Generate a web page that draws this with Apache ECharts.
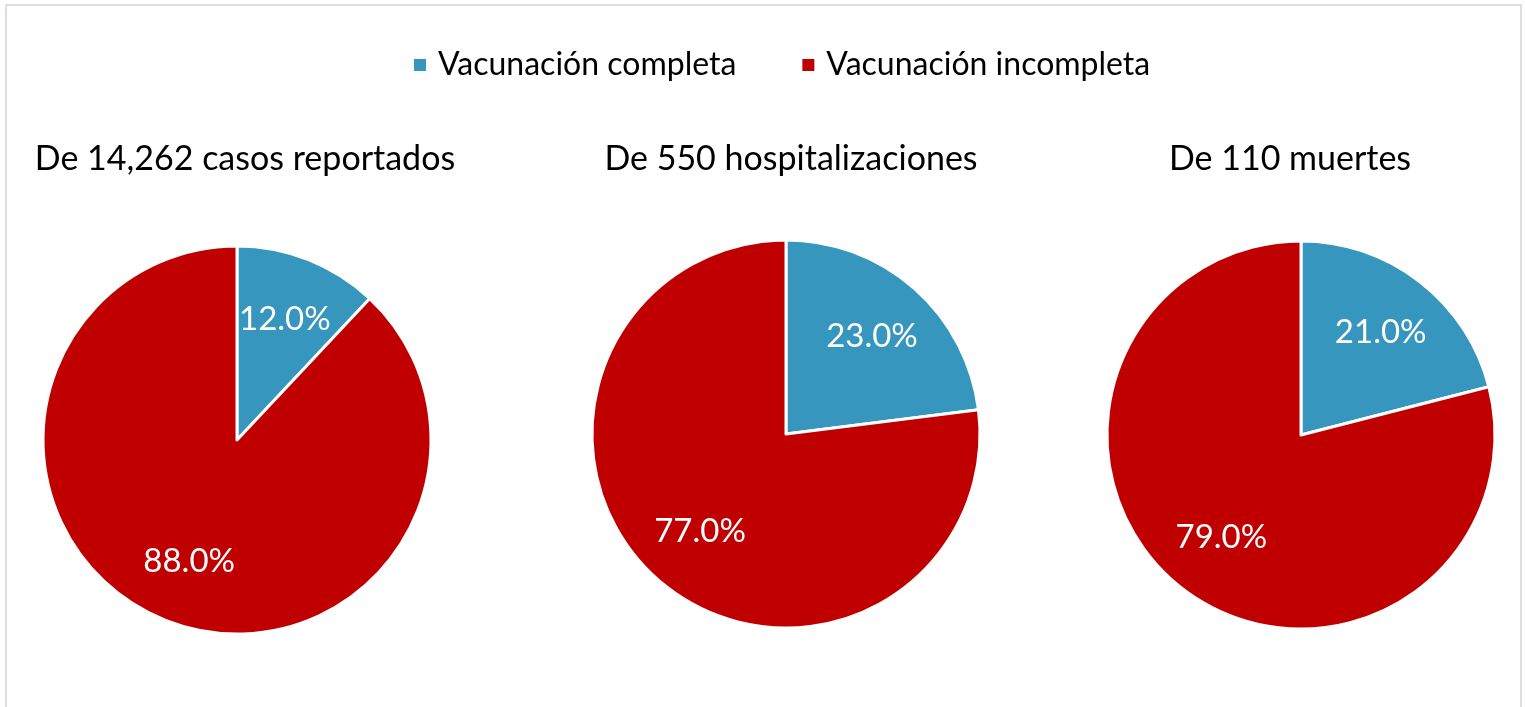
<!DOCTYPE html>
<html>
<head>
<meta charset="utf-8">
<script src="https://cdn.jsdelivr.net/npm/echarts@6/dist/echarts.min.js"></script>
<style>
  html, body { margin: 0; padding: 0; background: #fff; }
  #chart { width: 1525px; height: 707px; }
</style>
</head>
<body>
<div id="chart"></div>
<script>
// Data
var categories = ['Vacunación completa', 'Vacunación incompleta'];
var pieTitles = ['De 14,262 casos reportados', 'De 550 hospitalizaciones', 'De 110 muertes'];
var casosValues = [12.0, 88.0];
var hospValues = [23.0, 77.0];
var muertesValues = [21.0, 79.0];

var colors = ['#3796bd', '#c00000'];
var fontName = 'Lato, Carlito, Calibri, sans-serif';

// pie geometry (pixels)
var centers = [[237, 440], [786, 434], [1301, 435]];
var titleX = [240, 786, 1285];
var pieRadius = 194;

var chart = echarts.init(document.getElementById('chart'));

var makeSeries = function (idx, values) {
    var c = centers[idx];
    return {
        name: pieTitles[idx],
        type: 'pie',
        center: c,
        radius: pieRadius,
        startAngle: 90,
        clockwise: true,
        animation: false,
        itemStyle: {
            borderColor: '#fff',
            borderWidth: 3
        },
        label: {
            show: true,
            position: 'inside',
            color: '#fff',
            fontFamily: fontName,
            fontSize: 33,
            formatter: function (p) { return p.value.toFixed(1) + '%'; }
        },
        // push inside labels further out, like the spreadsheet does
        labelLayout: function (params) {
            var r = params.labelRect;
            var lx = r.x + r.width / 2;
            var ly = r.y + r.height / 2;
            var k = 1.3;
            return {
                x: c[0] + (lx - c[0]) * k,
                y: c[1] + (ly - c[1]) * k,
                align: 'center',
                verticalAlign: 'middle'
            };
        },
        emphasis: { disabled: true },
        data: categories.map(function (name, i) {
            return { name: name, value: values[i] };
        })
    };
};

var option = {
    color: colors,
    textStyle: { fontFamily: fontName },
    title: pieTitles.map(function (t, i) {
        return {
            text: t,
            left: titleX[i],
            top: 137,
            textAlign: 'center',
            textStyle: {
                fontFamily: fontName,
                fontSize: 34,
                fontWeight: 'normal',
                color: '#000'
            }
        };
    }),
    legend: {
        data: categories,
        left: 407,
        top: 44,
        itemWidth: 14,
        itemHeight: 14,
        itemGap: 64,
        icon: 'rect',
        textStyle: {
            fontFamily: fontName,
            fontSize: 32,
            color: '#000',
            padding: [0, 0, 0, 6]
        }
    },
    graphic: [{
        type: 'rect',
        shape: { x: 6, y: 5, width: 1515, height: 720 },
        style: { fill: 'none', stroke: '#e3dcdc', lineWidth: 2 },
        silent: true
    }],
    series: [
        makeSeries(0, casosValues),
        makeSeries(1, hospValues),
        makeSeries(2, muertesValues)
    ]
};

chart.setOption(option);
window.addEventListener('resize', function () { chart.resize(); });
</script>
</body>
</html>
